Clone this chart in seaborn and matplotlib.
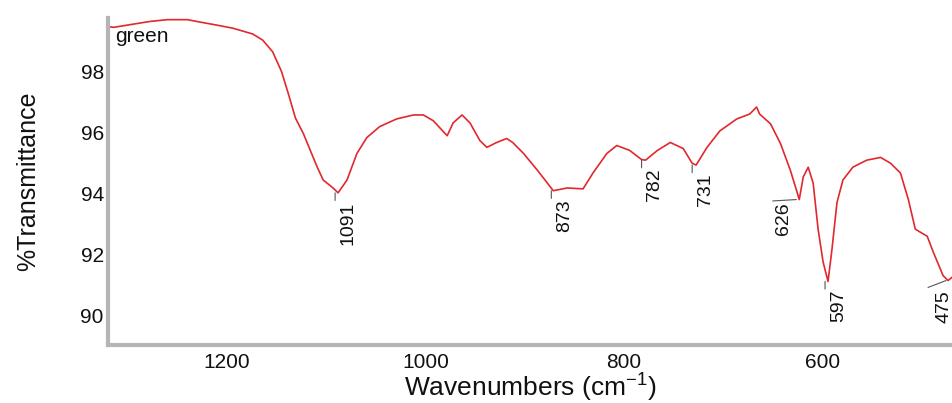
import matplotlib
matplotlib.use("Agg")
import matplotlib.pyplot as plt
import seaborn as sns
import pandas as pd

# Spectrum (wavenumber cm-1, %T)
wavenumber = [1320, 1314, 1295, 1278, 1260, 1240, 1227, 1210, 1194, 1174, 1164, 1154,
              1145, 1138, 1131, 1123, 1116, 1109, 1103, 1093, 1088, 1079, 1069, 1059,
              1046, 1029, 1012, 1002, 992, 978, 972, 963, 955, 945, 938, 928, 918,
              912, 901, 887, 877, 871, 857, 841, 831, 817, 807, 794, 782, 778, 766,
              753, 740, 731, 727, 716, 703, 686, 673, 666, 663, 652, 642, 632, 625,
              623, 619, 614, 609, 604, 599, 594, 590, 585, 579, 569, 555, 541, 531,
              521, 513, 506, 494, 488, 478, 473, 468]
transmittance = [99.47, 99.45, 99.55, 99.64, 99.70, 99.70, 99.62, 99.52, 99.42, 99.23,
                 99.03, 98.65, 98.0, 97.26, 96.48, 95.97, 95.42, 94.87, 94.45, 94.19,
                 94.03, 94.45, 95.32, 95.84, 96.2, 96.45, 96.58, 96.58, 96.39, 95.9,
                 96.32, 96.58, 96.32, 95.74, 95.52, 95.68, 95.81, 95.68, 95.32, 94.77,
                 94.35, 94.1, 94.19, 94.16, 94.68, 95.32, 95.58, 95.42, 95.12, 95.1,
                 95.42, 95.68, 95.48, 95.0, 94.94, 95.52, 96.06, 96.45, 96.61, 96.84,
                 96.61, 96.29, 95.65, 94.77, 94.03, 93.81, 94.55, 94.87, 94.35, 92.84,
                 91.77, 91.13, 92.19, 93.71, 94.45, 94.87, 95.1, 95.19, 95.0, 94.68,
                 93.81, 92.84, 92.61, 92.1, 91.32, 91.16, 91.29]

peak_labels = ["1091", "873", "782", "731", "626", "597", "475"]
peak_pos = [1091, 873, 782, 731, 626, 597, 475]
peak_val = [94.03, 94.1, 95.1, 94.94, 93.81, 91.13, 91.16]

sample_label = "green"

df = pd.DataFrame({"wavenumber": wavenumber, "T": transmittance})

sns.set_style("white")
plt.rcParams["font.family"] = ["Liberation Sans", "DejaVu Sans"]
plt.rcParams["mathtext.fontset"] = "custom"
plt.rcParams["mathtext.rm"] = "Liberation Sans"
plt.rcParams["mathtext.it"] = "Liberation Sans"

fig = plt.figure(figsize=(9.53, 4.03), dpi=100)
ax = fig.add_axes([0.1133, 0.144, 0.8867, 0.811])

sns.lineplot(data=df, x="wavenumber", y="T", ax=ax, color="#e0282e", linewidth=1.2, sort=False)

ax.set_xlim(1320, 468)
ax.set_ylim(89.05, 99.75)
ax.set_xticks([1200, 1000, 800, 600])
ax.set_yticks([90, 92, 94, 96, 98])
ax.set_xticks(range(500, 1321, 50), minor=True)
ax.set_yticks([89.5 + 0.5 * i for i in range(21)], minor=True)

for s in ["top", "right"]:
    ax.spines[s].set_visible(False)
for s in ["left", "bottom"]:
    ax.spines[s].set_color("#b5b5b5")
    ax.spines[s].set_linewidth(3)

ax.tick_params(axis="both", which="major", direction="inout", length=5, width=1.2,
               color="#333333", labelsize=15, labelcolor="#111111")
ax.tick_params(axis="x", which="major", pad=3)
ax.tick_params(axis="y", which="major", pad=0.5)
ax.tick_params(axis="both", which="minor", direction="inout", length=3, width=0.8,
               color="#666666")

ax.set_xlabel(r"Wavenumbers (cm$^{\mathrm{-1}}$)", fontsize=19, labelpad=0, color="#111111")
ax.set_ylabel("%Transmittance", fontsize=18, labelpad=29, color="#111111")

ax.text(0.008, 0.972, sample_label, transform=ax.transAxes, fontsize=15,
        va="top", ha="left", color="#111111")

# peak annotations: text offset (points) and leader end offset (points)
text_off = {"626": (-9.5, -2), "475": (-1.5, -7)}
lead_off = {"626": (-17, -1), "475": (-13, -5)}
for lab, xp, yp in zip(peak_labels, peak_pos, peak_val):
    lx, ly = lead_off.get(lab, (0, -5.5))
    ax.annotate("", xy=(xp, yp), xytext=(lx, ly), textcoords="offset points",
                arrowprops=dict(arrowstyle="-", color="#555555", lw=0.8,
                                shrinkA=0, shrinkB=0))
    dx, dy = text_off.get(lab, (9.5, -6))
    ax.annotate(lab, xy=(xp, yp), xytext=(dx, dy), textcoords="offset points",
                rotation=90, ha="center", va="top", fontsize=14, color="#111111")

fig.savefig("out.png", dpi=100)
